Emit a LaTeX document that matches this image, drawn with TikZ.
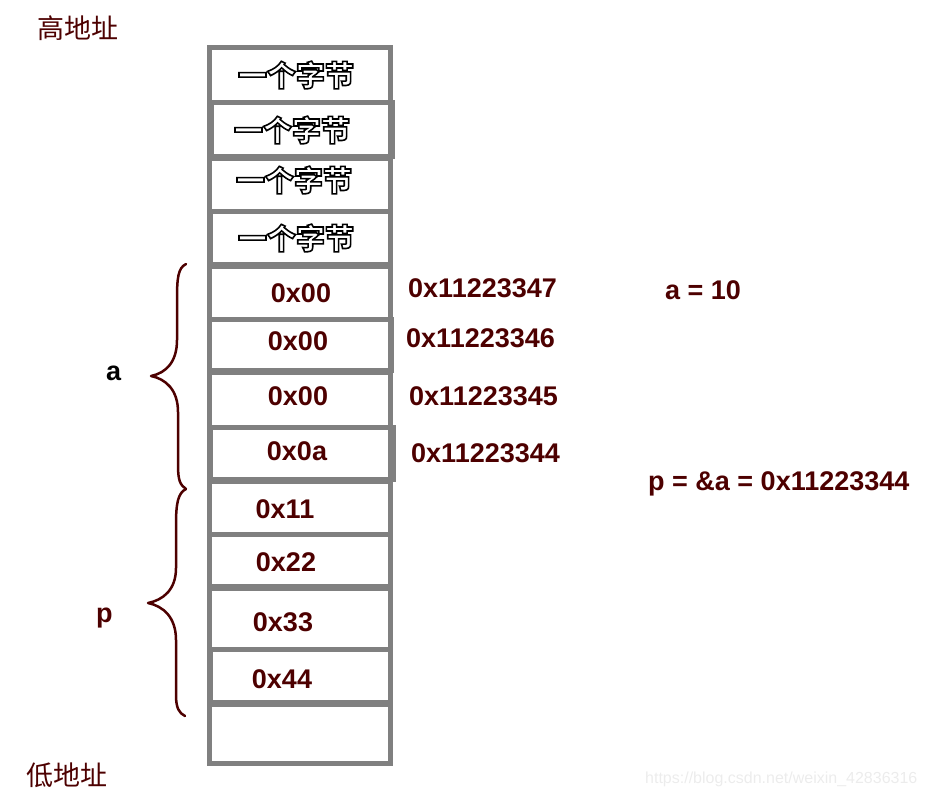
\documentclass[tikz,border=0pt]{standalone}
\usepackage{fontspec}
\setmainfont{Liberation Sans}
\newfontfamily\cjk{Noto Sans CJK SC}
\usepackage{xcolor}
\definecolor{hexred}{RGB}{77,0,0}
\definecolor{cellgray}{RGB}{128,128,128}
% white text with a thin black outline
\newcommand{\outlined}[1]{\textcolor{white}{\special{pdf:literal direct 2 Tr 1.6 w 0 G}#1\special{pdf:literal direct 0 Tr}}}
\usetikzlibrary{calc}

\begin{document}
\begin{tikzpicture}[x=1pt, y=-1pt,
		cell/.style={draw=cellgray, line width=5pt},
		hexval/.style={text=hexred, font=\fontsize{27}{30}\selectfont\bfseries, inner sep=0pt},
		addr/.style={hexval, anchor=west},
		bytebox/.style={font=\cjk\bfseries\fontsize{29}{32}\selectfont, inner sep=0pt},
		ends/.style={text=hexred, font=\cjk\fontsize{27}{30}\selectfont, inner sep=0pt},
		brace/.style={draw=hexred, line width=2.5pt, line cap=round, line join=round}]
		\useasboundingbox (0,0) rectangle (929,798);
		% memory column and every second byte box
		\draw[cell] (209,47) rectangle (390,763);
		\draw[cell] (211,102) rectangle (392,156);
		\draw[cell] (210,211) rectangle (390,264);
		\draw[cell] (209,319) rectangle (391,370);
		\draw[cell] (210,427) rectangle (393,479);
		\draw[cell] (209,534) rectangle (390,586);
		\draw[cell] (210,649) rectangle (390,702);
		\draw[cell] (209,158) -- (390,158);
		\draw[cell] (209,266) -- (390,266);
		\draw[cell] (209,372) -- (390,372);
		\draw[cell] (209,481) -- (390,481);
		\draw[cell] (209,588) -- (390,588);
		\draw[cell] (209,704) -- (390,704);
		% upper bytes
		\node[bytebox] (b1) at (296,75) {\outlined{一个字节}};
		\node[bytebox] (b2) at (292,130) {\outlined{一个字节}};
		\node[bytebox] (b3) at (294,180) {\outlined{一个字节}};
		\node[bytebox] (b4) at (296,238) {\outlined{一个字节}};
		% bytes of a
		\node[hexval] (a3) at (301,293) {0x00};
		\node[hexval] (a2) at (298,341) {0x00};
		\node[hexval] (a1) at (298,396) {0x00};
		\node[hexval] (a0) at (297,451) {0x0a};
		% bytes of p
		\node[hexval] (p3) at (285,509) {0x11};
		\node[hexval] (p2) at (286,562) {0x22};
		\node[hexval] (p1) at (283,622) {0x33};
		\node[hexval] (p0) at (282,679) {0x44};
		% addresses
		\node[addr] (ad7) at (408,288) {0x11223347};
		\node[addr] (ad6) at (406,338) {0x11223346};
		\node[addr] (ad5) at (409,396) {0x11223345};
		\node[addr] (ad4) at (411,453) {0x11223344};
		\node[addr] (aval) at (665,290) {a = 10};
		\node[hexval, anchor=base west] (pval) at (648,490) {p = \&a = 0x11223344};
		% braces
		\coordinate (atip) at (151,376);
		\coordinate (ptip) at (148,603);
		\draw[brace] (186,264) .. controls (178,268) and (177,278) .. (177,300) -- (177,340)
			.. controls (177,362) and (166,373) .. (atip)
			.. controls (166,379) and (178,390) .. (178,412) -- (178,465)
			.. controls (178,480) and (180,485) .. (186,489);
		\draw[brace] (186,489) .. controls (178,493) and (176,503) .. (176,525) -- (176,568)
			.. controls (176,590) and (163,600) .. (ptip)
			.. controls (163,606) and (176,617) .. (176,640) -- (176,695)
			.. controls (176,708) and (179,713) .. (185,716);
		\node[font=\fontsize{27}{30}\selectfont\bfseries, inner sep=0pt, anchor=base west] (alab) at (106,380) {a};
		\node[hexval, anchor=base west] (plab) at (96,622) {p};
		% high and low end
		\node[ends] (high) at (78,28) {高地址};
		\node[ends] (low) at (67,775) {低地址};
		\node[text=gray!15, font=\fontsize{16}{18}\selectfont, anchor=west, inner sep=0pt] (mark) at (645,779) {https://blog.csdn.net/weixin\_42836316};
	\end{tikzpicture}
\end{document}
